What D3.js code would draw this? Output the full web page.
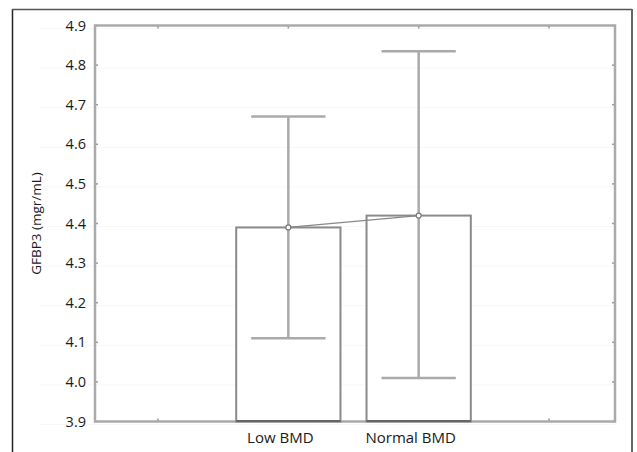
<!DOCTYPE html>
<html><head><meta charset="utf-8">
<script src="https://cdn.jsdelivr.net/npm/d3@7"></script>
<style>
body{margin:0;background:#fff;}
text{font-family:"Open Sans",sans-serif;fill:#1a1a1a;}
</style></head>
<body><svg id="c" width="637" height="452"></svg>
<script>
const categories = ["Low BMD", "Normal BMD"];
const slots = ["", "Low BMD", "Normal BMD", " "];
const means = [4.39, 4.42];
const upper = [4.67, 4.835];
const lower = [4.11, 4.01];
const yTicks = [3.9, 4.0, 4.1, 4.2, 4.3, 4.4, 4.5, 4.6, 4.7, 4.8, 4.9];
const yLabel = "GFBP3 (mgr/mL)";

const svg = d3.select("#c");
const L = 95, R = 615, T = 25.5, B = 421.5;
const y = d3.scaleLinear().domain([3.9, 4.9]).range([B, T]);
const x = d3.scalePoint().domain(slots).range([158, 549]);
const step = x.step();

// outer frame
svg.append("line").attr("x1",12.5).attr("x2",12.5).attr("y1",9).attr("y2",452).attr("stroke","#222").attr("stroke-width",1.5);
svg.append("line").attr("x1",12).attr("x2",632).attr("y1",9.5).attr("y2",9.5).attr("stroke","#555").attr("stroke-width",1.5);
svg.append("line").attr("x1",632).attr("x2",632).attr("y1",9).attr("y2",452).attr("stroke","#666").attr("stroke-width",2);

// faint grid
svg.append("g").selectAll("line").data(yTicks).join("line")
  .attr("x1",40).attr("x2",R).attr("y1",d=>y(d)+3).attr("y2",d=>y(d)+3)
  .attr("stroke","#f7f7f7").attr("stroke-width",1);

// y axis labels
const ya = svg.append("g").attr("transform",`translate(${L},0)`)
  .call(d3.axisLeft(y).tickValues(yTicks).tickFormat(d3.format(".1f")).tickSize(0).tickPadding(9));
ya.select(".domain").remove();
ya.selectAll("text").attr("font-size",14.5).attr("font-family","Open Sans").attr("fill","#1a1a1a");

// inner ticks
const tk = svg.append("g").attr("stroke","#999").attr("stroke-width",1.5);
yTicks.forEach(v=>{
  tk.append("line").attr("x1",L).attr("x2",L+3).attr("y1",y(v)).attr("y2",y(v));
  tk.append("line").attr("x1",R-3).attr("x2",R).attr("y1",y(v)).attr("y2",y(v));
});
slots.forEach(s=>{
  tk.append("line").attr("x1",x(s)).attr("x2",x(s)).attr("y1",T).attr("y2",T+3);
  tk.append("line").attr("x1",x(s)).attr("x2",x(s)).attr("y1",B-3).attr("y2",B);
});

// plot frame
svg.append("rect").attr("x",L).attr("y",T).attr("width",R-L).attr("height",B-T)
  .attr("fill","none").attr("stroke","#aaa").attr("stroke-width",2.5);

// bars
const bw = step*0.8;
const g = svg.append("g");
categories.forEach((c,i)=>{
  const cx = x(c);
  g.append("rect").attr("x",cx-bw/2).attr("y",y(means[i])).attr("width",bw).attr("height",y(3.9)-y(means[i]))
    .attr("fill","#fff").attr("stroke","#8a8a8a").attr("stroke-width",2);
  g.append("line").attr("x1",cx-bw/2).attr("x2",cx+bw/2).attr("y1",B-0.5).attr("y2",B-0.5).attr("stroke","#666").attr("stroke-width",2);
});
// whiskers
const cw = step*0.57;
categories.forEach((c,i)=>{
  const cx = x(c);
  g.append("line").attr("x1",cx).attr("x2",cx).attr("y1",y(upper[i])).attr("y2",y(lower[i])).attr("stroke","#aaa").attr("stroke-width",2.5);
  g.append("line").attr("x1",cx-cw/2).attr("x2",cx+cw/2).attr("y1",y(upper[i])).attr("y2",y(upper[i])).attr("stroke","#aaa").attr("stroke-width",2.5);
  g.append("line").attr("x1",cx-cw/2).attr("x2",cx+cw/2).attr("y1",y(lower[i])).attr("y2",y(lower[i])).attr("stroke","#aaa").attr("stroke-width",2.5);
});
// mean line + points
g.append("path").datum(categories.map((c,i)=>[x(c),y(means[i])]))
  .attr("d",d3.line()).attr("fill","none").attr("stroke","#888").attr("stroke-width",1.2);
g.selectAll("circle").data(categories).join("circle")
  .attr("cx",c=>x(c)).attr("cy",(c,i)=>y(means[i])).attr("r",2.5)
  .attr("fill","#fff").attr("stroke","#777").attr("stroke-width",1.2);

// x labels
svg.append("g").selectAll("text").data(categories).join("text")
  .attr("x",c=>x(c)).attr("dx",-8).attr("y",443).attr("text-anchor","middle").attr("font-size",15).text(c=>c);

// y label
svg.append("text").attr("transform",`translate(41,${(T+B)/2}) rotate(-90)`)
  .attr("text-anchor","middle").attr("font-size",13.5).text(yLabel);
</script></body></html>
